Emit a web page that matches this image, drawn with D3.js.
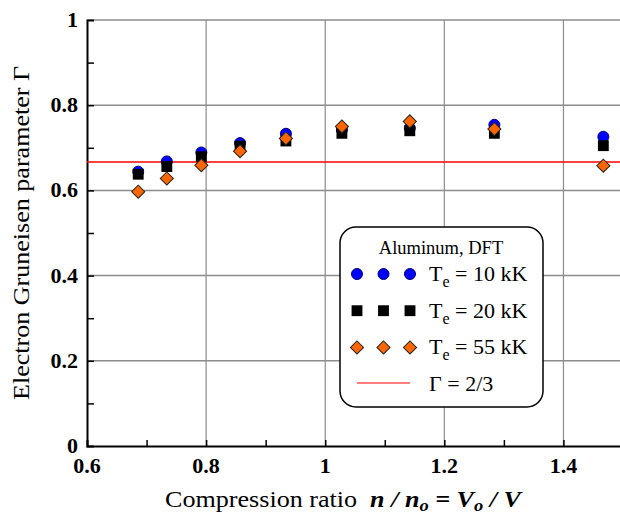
<!DOCTYPE html>
<html>
<head>
<meta charset="utf-8">
<script src="https://cdn.jsdelivr.net/npm/d3@7"></script>
<style>
  body { margin: 0; background: #fff; }
</style>
</head>
<body>
<div id="chart"></div>
<script>
var width = 620
var height = 516
var margin = { top: 20, bottom: 70, left: 87, right: -3 };
var serif = "'Liberation Serif', 'Times New Roman', serif";

// compression ratio n/n0
var compression = [0.686, 0.734, 0.792, 0.857, 0.934, 1.028, 1.142, 1.284, 1.467];
// electron Gruneisen parameter for each electron temperature
var gamma10kK = [0.644, 0.668, 0.689, 0.711, 0.733, 0.742, 0.746, 0.754, 0.726];
var gamma20kK = [0.638, 0.656, 0.679, 0.704, 0.716, 0.734, 0.740, 0.734, 0.705];
var gamma55kK = [0.597, 0.628, 0.659, 0.692, 0.722, 0.750, 0.762, 0.744, 0.658];
var gammaRef = 2 / 3;

var xTicks = [0.6, 0.8, 1, 1.2, 1.4];
var yTicks = [0, 0.2, 0.4, 0.6, 0.8, 1];

var series = [
    { name: "10 kK", values: gamma10kK, shape: "circle", fill: "#0000ff" },
    { name: "20 kK", values: gamma20kK, shape: "square", fill: "#000000" },
    { name: "55 kK", values: gamma55kK, shape: "diamond", fill: "#ff6600" }
];

var svg = d3.select("#chart").append("svg")
    .attr("width", width)
    .attr("height", height);

var x = d3.scaleLinear()
    .domain([0.6, 1.5])
    .range([margin.left, width - margin.right]);
var y = d3.scaleLinear()
    .domain([0, 1])
    .range([height - margin.bottom, margin.top]);

// grid lines
svg.append("g")
    .selectAll("line")
    .data(xTicks.slice(1))
    .enter().append("line")
    .attr("x1", function(d) { return x(d); })
    .attr("x2", function(d) { return x(d); })
    .attr("y1", y(0))
    .attr("y2", y(1))
    .attr("stroke", "#8c8c8c")
    .attr("stroke-width", 1.2);

svg.append("g")
    .selectAll("line")
    .data(yTicks.slice(1))
    .enter().append("line")
    .attr("x1", x(0.6))
    .attr("x2", width)
    .attr("y1", function(d) { return y(d); })
    .attr("y2", function(d) { return y(d); })
    .attr("stroke", "#8c8c8c")
    .attr("stroke-width", 1.5);

// axes: minor ticks inward, labels drawn below in bold
var xAxis = svg.append("g")
    .attr("transform", "translate(0," + y(0) + ")")
    .call(d3.axisBottom(x).tickValues(d3.range(7, 15).map(function(i) { return i / 10; }))
        .tickSize(-6).tickFormat(""));
xAxis.select(".domain").attr("stroke-width", 2);
xAxis.selectAll(".tick line").attr("stroke-width", 1.5);

var yAxis = svg.append("g")
    .attr("transform", "translate(" + x(0.6) + ",0)")
    .call(d3.axisLeft(y).tickValues(d3.range(1, 10).map(function(i) { return i / 10; }))
        .tickSize(-7).tickFormat(""));
yAxis.select(".domain").attr("stroke-width", 2);
yAxis.selectAll(".tick line").attr("stroke-width", 1.5);

// tick labels
svg.append("g")
    .selectAll("text")
    .data(xTicks)
    .enter().append("text")
    .attr("x", function(d) { return x(d); })
    .attr("y", y(0) + 27)
    .attr("text-anchor", "middle")
    .style("font-family", serif)
    .style("font-size", "22px")
    .style("font-weight", "bold")
    .text(function(d) { return d3.format("")(d); });

svg.append("g")
    .selectAll("text")
    .data(yTicks)
    .enter().append("text")
    .attr("x", x(0.6) - 9)
    .attr("y", function(d) { return y(d) + 7; })
    .attr("text-anchor", "end")
    .style("font-family", serif)
    .style("font-size", "22px")
    .style("font-weight", "bold")
    .text(function(d) { return d3.format("")(d); });

// reference line
svg.append("line")
    .attr("x1", x(0.6))
    .attr("x2", width)
    .attr("y1", y(gammaRef))
    .attr("y2", y(gammaRef))
    .attr("stroke", "#ff0000")
    .attr("stroke-width", 1.5);

function symbolPath(shape) {
    if (shape == "circle") return d3.symbol().type(d3.symbolCircle).size(95)();
    if (shape == "square") return d3.symbol().type(d3.symbolSquare).size(118)();
    return d3.symbol().type(d3.symbolSquare).size(86)();
}

function drawMarker(g, s, cx, cy) {
    g.append("path")
        .attr("d", symbolPath(s.shape))
        .attr("transform", "translate(" + cx + "," + cy + ")" + (s.shape == "diamond" ? " rotate(45)" : ""))
        .attr("fill", s.fill)
        .attr("stroke", s.shape == "circle" ? "#00007a" : "#222")
        .attr("stroke-width", s.shape == "square" ? 0 : 1);
}

// data points
series.forEach(function(s) {
    var g = svg.append("g");
    s.values.forEach(function(v, i) {
        drawMarker(g, s, x(compression[i]), y(v));
    });
});

// legend
var legend = svg.append("g");
legend.append("rect")
    .attr("x", 340)
    .attr("y", 227)
    .attr("width", 203)
    .attr("height", 180)
    .attr("rx", 16)
    .attr("fill", "#fff")
    .attr("stroke", "#000")
    .attr("stroke-width", 1.5);

legend.append("text")
    .attr("x", 441)
    .attr("y", 254)
    .attr("text-anchor", "middle")
    .style("font-family", serif)
    .style("font-size", "18.5px")
    .text("Aluminum, DFT");

series.forEach(function(s, i) {
    var ly = 274 + i * 36.7;
    [357, 383.5, 410].forEach(function(lx) { drawMarker(legend, s, lx, ly); });
    var t = legend.append("text")
        .attr("x", 429)
        .attr("y", ly + 7)
        .style("font-family", serif)
        .style("font-size", "22px");
    t.append("tspan").text("T");
    t.append("tspan").style("font-size", "16px").attr("dy", 6).text("e");
    t.append("tspan").attr("dy", -6).text(" = " + s.name);
});

legend.append("line")
    .attr("x1", 357)
    .attr("x2", 410)
    .attr("y1", 383)
    .attr("y2", 383)
    .attr("stroke", "#ff0000")
    .attr("stroke-width", 1.2);
legend.append("text")
    .attr("x", 429)
    .attr("y", 391)
    .style("font-family", serif)
    .style("font-size", "22px")
    .text("\u0393 = 2/3");

// axis titles
var xt = svg.append("text")
    .attr("x", 165)
    .attr("y", 507)
    .attr("textLength", 356)
    .attr("lengthAdjust", "spacingAndGlyphs")
    .style("font-family", serif)
    .style("font-size", "24px");
xt.append("tspan").text("Compression ratio\u00a0\u00a0");
var xb = xt.append("tspan").style("font-weight", "bold").style("font-style", "italic");
xb.append("tspan").text("n / n");
xb.append("tspan").style("font-size", "17px").attr("dy", 4).text("o");
xb.append("tspan").attr("dy", -4).text(" = V");
xb.append("tspan").style("font-size", "17px").attr("dy", 4).text("o");
xb.append("tspan").attr("dy", -4).text(" / V");

svg.append("text")
    .attr("transform", "translate(29,400) rotate(-90)")
    .attr("textLength", 334)
    .attr("lengthAdjust", "spacingAndGlyphs")
    .style("font-family", serif)
    .style("font-size", "24px")
    .text("Electron Gruneisen parameter \u0393");
</script>
</body>
</html>
